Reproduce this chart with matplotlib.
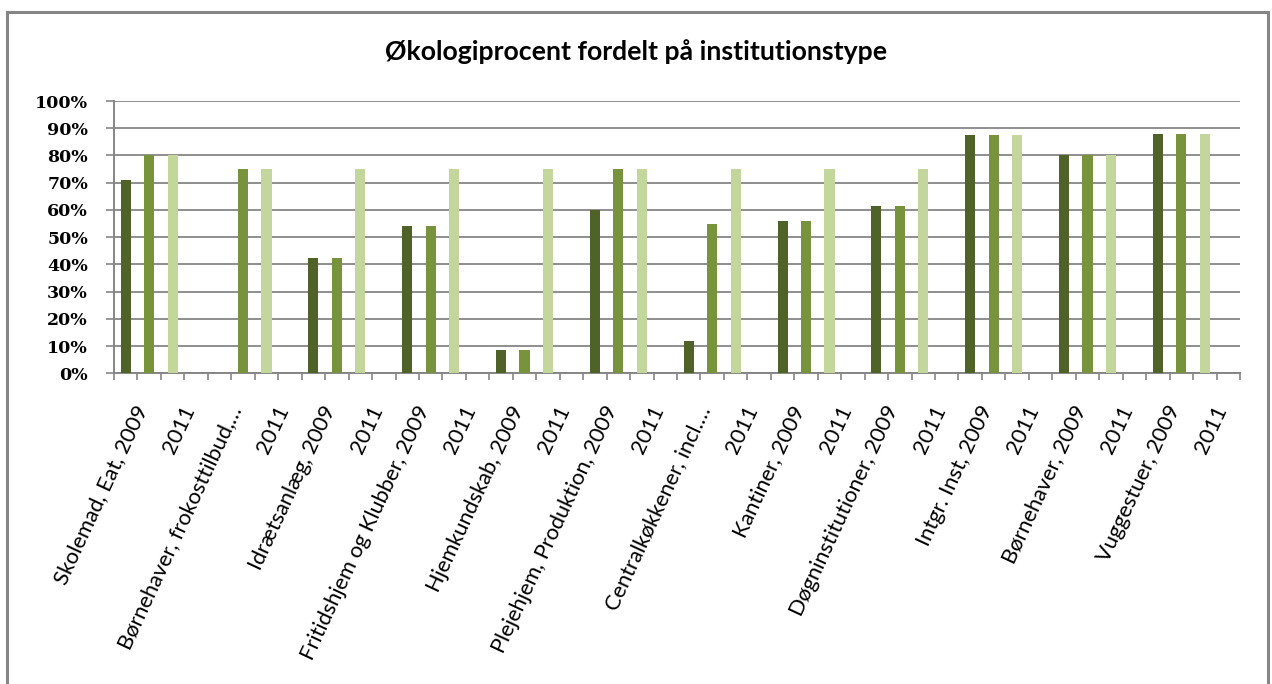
import matplotlib
matplotlib.use("Agg")
import matplotlib.pyplot as plt
import numpy as np
from matplotlib.patches import Rectangle
from matplotlib.transforms import ScaledTranslation
from matplotlib.ticker import MultipleLocator, PercentFormatter

# ---------------- data ----------------
title = "Økologiprocent fordelt på institutionstype"
groups = [
    "Skolemad, Eat, 2009",
    "Børnehaver, frokosttilbud,…",
    "Idrætsanlæg, 2009",
    "Fritidshjem og Klubber, 2009",
    "Hjemkundskab, 2009",
    "Plejehjem, Produktion, 2009",
    "Centralkøkkener, incl.…",
    "Kantiner, 2009",
    "Døgninstitutioner, 2009",
    "Intgr. Inst, 2009",
    "Børnehaver, 2009",
    "Vuggestuer, 2009",
]
label_2011 = "2011"
values_2009 = [0.71, np.nan, 0.425, 0.54, 0.085, 0.60, 0.12, 0.56, 0.615, 0.875, 0.80, 0.88]
values_mid = [0.80, 0.75, 0.425, 0.54, 0.085, 0.75, 0.55, 0.56, 0.615, 0.875, 0.80, 0.88]
values_2011 = [0.80, 0.75, 0.75, 0.75, 0.75, 0.75, 0.75, 0.75, 0.75, 0.875, 0.80, 0.88]

# ---------------- style ----------------
W, H = 1272, 684
GRAY = "#868686"
C_DARK, C_MID, C_LIGHT = "#4F6228", "#77933C", "#C3D69B"

fig = plt.figure(figsize=(W / 100, H / 100), dpi=100)
fig.patch.set_facecolor("white")

left, right, top, bottom = 114, 1240, 101, 373.3
ax = fig.add_axes([left / W, 1 - bottom / H, (right - left) / W, (bottom - top) / H])

n = len(groups)
base = np.arange(n) * 4
bw = 0.43
ax.bar(base, values_2009, bw, color=C_DARK, zorder=3)
ax.bar(base + 1, values_mid, bw, color=C_MID, zorder=3)
ax.bar(base + 2, values_2011, bw, color=C_LIGHT, zorder=3)

ax.set_xlim(-0.5, 4 * n - 0.5)
ax.set_ylim(0, 1)

# y axis
ax.yaxis.set_major_locator(MultipleLocator(0.1))
ax.yaxis.set_major_formatter(PercentFormatter(1.0, decimals=0))
ax.grid(axis="y", color=GRAY, lw=1.3, zorder=0)
ax.set_axisbelow(True)
for s in ("top", "right"):
    ax.spines[s].set_visible(False)
for s in ("left", "bottom"):
    ax.spines[s].set_color(GRAY)
    ax.spines[s].set_linewidth(1.4)
ax.tick_params(axis="y", length=5.8, width=1.2, color=GRAY, pad=13)
for lbl in ax.get_yticklabels():
    lbl.set_fontfamily("DejaVu Serif")
    lbl.set_fontweight("bold")
    lbl.set_fontsize(12.5)
    lbl.set_color("black")

# x axis: labels at every other category, ticks at every boundary
tick_pos = []
tick_lab = []
for g, name in enumerate(groups):
    tick_pos += [base[g], base[g] + 2]
    tick_lab += [name, label_2011]
ax.set_xticks(tick_pos)
ax.set_xticklabels(tick_lab, rotation=65, ha="right", va="top",
                   rotation_mode="anchor", fontfamily="Lato", fontsize=15.7)
ax.set_xticks(np.arange(-0.5, 4 * n, 1), minor=True)
ax.tick_params(axis="x", which="major", length=0, pad=21)
ax.tick_params(axis="x", which="minor", length=5, width=1.2, color=GRAY)
offset = ScaledTranslation(0.08, 0, fig.dpi_scale_trans)
for lbl in ax.get_xticklabels():
    lbl.set_transform(lbl.get_transform() + offset)

# title
fig.text(636 / W, 1 - 60 / H, title, ha="center", va="baseline",
         fontfamily="Lato", fontweight="bold", fontsize=19.2)

# chart frame
fig.add_artist(Rectangle((7 / W, -0.05), (1268 - 7) / W, 1.05 - 12 / H,
                         fill=False, ec=GRAY, lw=2.2, transform=fig.transFigure))

fig.savefig("out.png", dpi=100, facecolor="white")
